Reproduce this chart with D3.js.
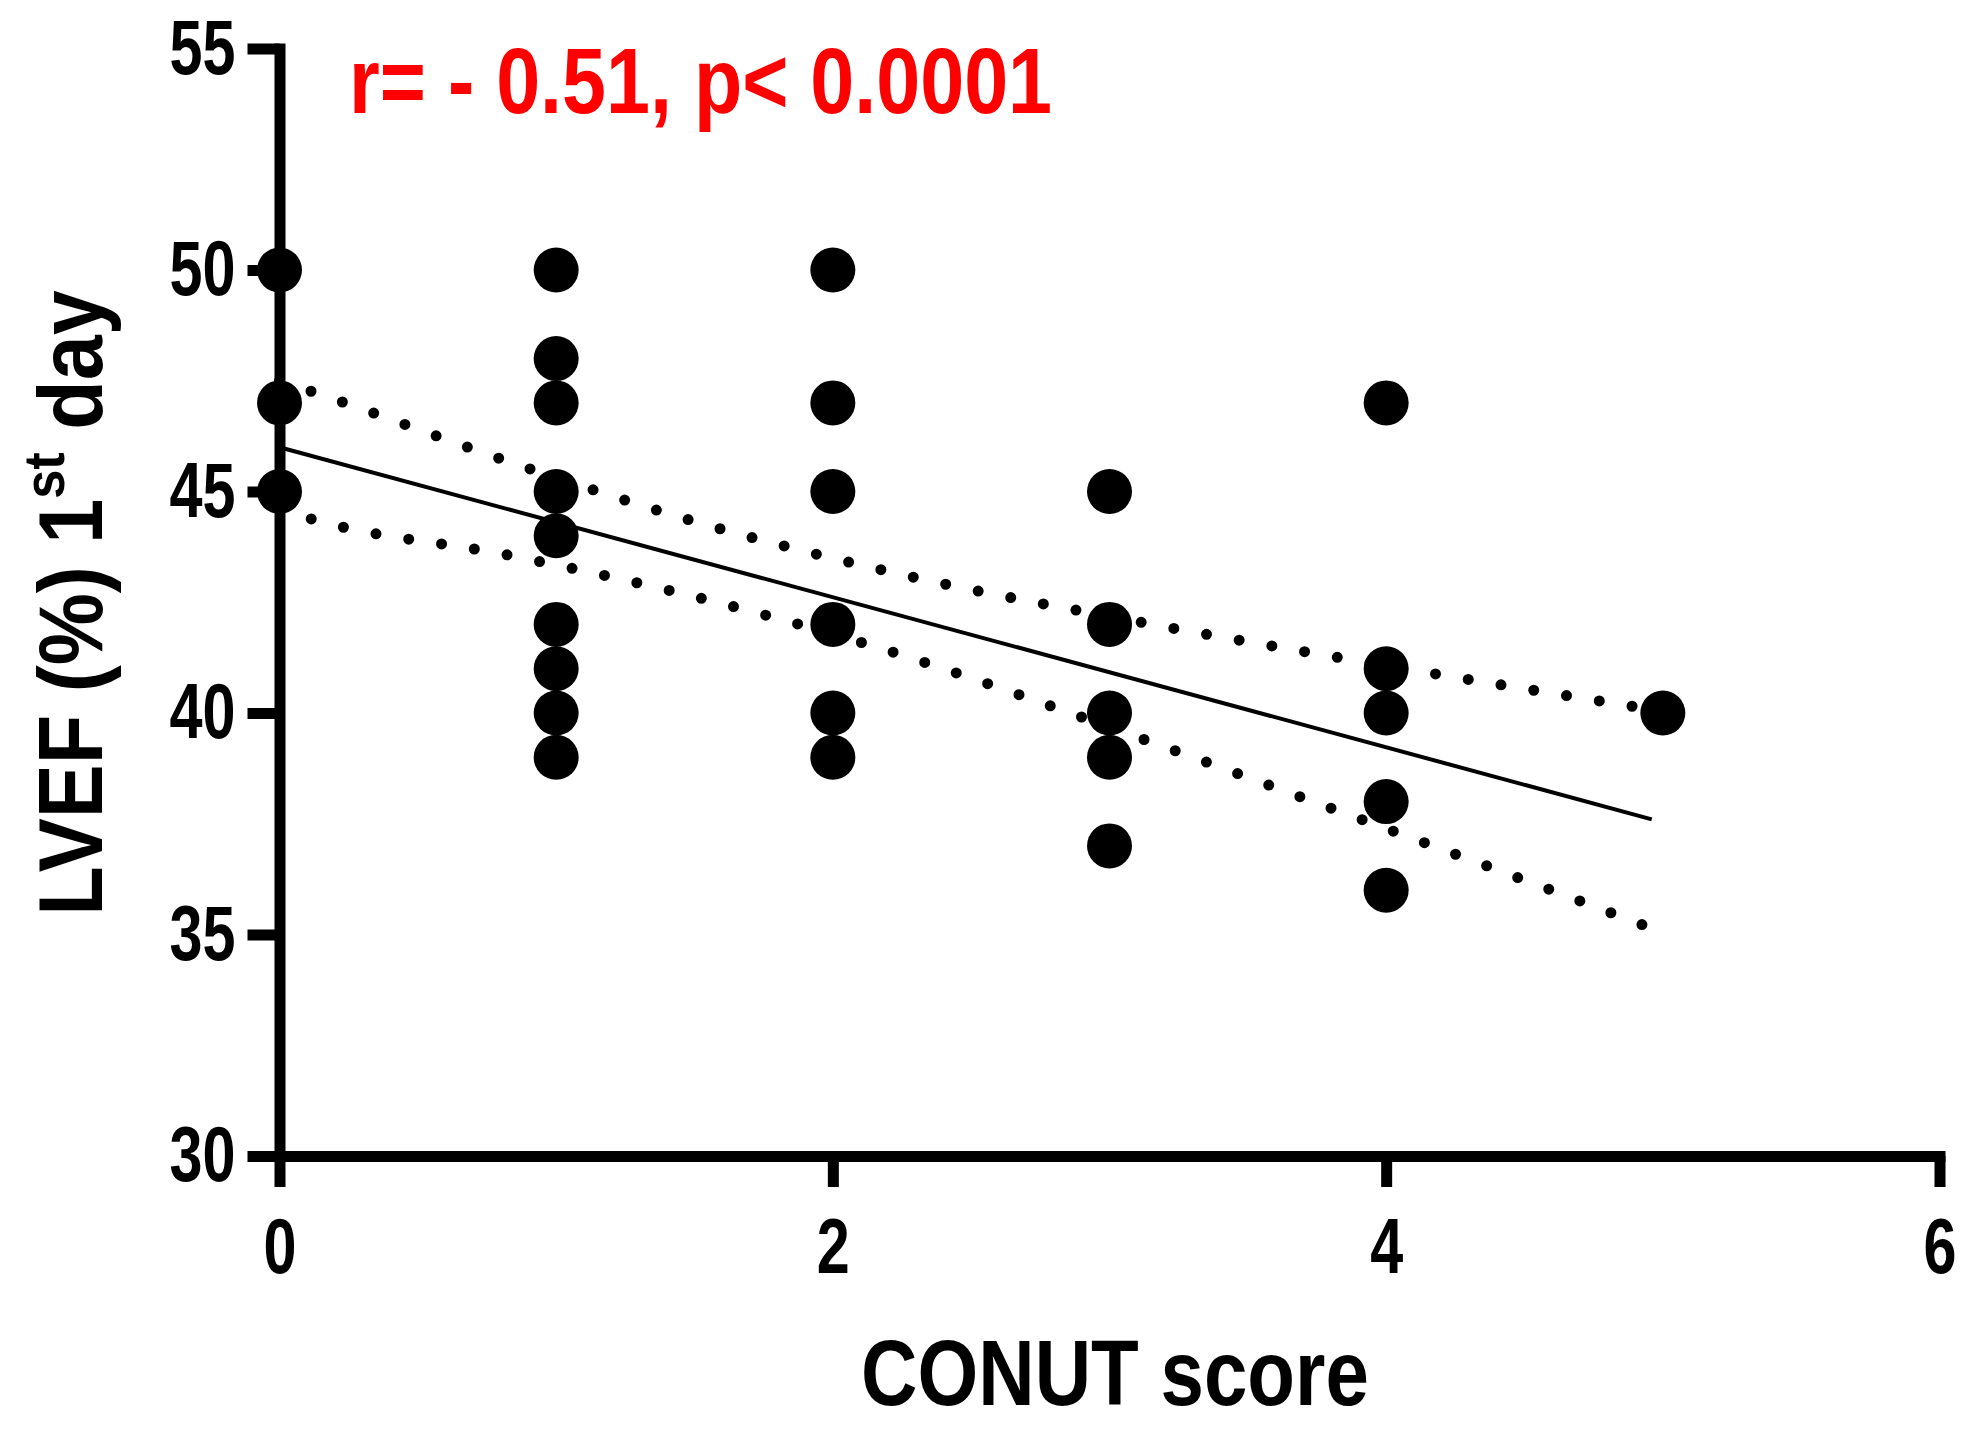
<!DOCTYPE html>
<html>
<head>
<meta charset="utf-8">
<script src="https://cdn.jsdelivr.net/npm/d3@7"></script>
<style>
  html, body { margin: 0; padding: 0; background: #fff; }
  svg { display: block; }
</style>
</head>
<body>
<svg id="chart" width="1973" height="1430"></svg>
<script>
// ---- data ----
const conutScores = [0,0,0, 1,1,1,1,1,1,1,1,1, 2,2,2,2,2,2, 3,3,3,3,3, 4,4,4,4,4, 5];
const lvefValues  = [50,47,45, 50,48,47,45,44,42,41,40,39, 50,47,45,42,40,39, 45,42,40,39,37, 47,41,40,38,36, 40];

const fitX = [0, 4.96];
const fitY = [46.0, 37.6];

const upperX = [0, 0.12, 0.91, 1.48, 2.19, 3.12, 3.83, 4.42, 4.96];
const upperY = [47.5, 47.25, 45.5, 44.36, 43.21, 42.04, 41.25, 40.63, 40.08];
const lowerX = [0, 0.12, 0.83, 1.42, 2.12, 3.13, 3.81, 4.38, 4.96];
const lowerY = [44.6, 44.37, 43.56, 42.75, 41.56, 39.39, 37.83, 36.51, 35.14];

const xTicks = [0, 2, 4, 6];
const yTicks = [30, 35, 40, 45, 50, 55];

const xTitle = "CONUT score";
const yTitleMain = "LVEF (%) 1";
const yTitleSup = "st";
const yTitleEnd = " day";
const statText = "r= - 0.51, p< 0.0001";

// ---- layout ----
const FONT = "'Liberation Sans', Arial, Helvetica, sans-serif";
const SX = 0.84;      // condensed look for titles
const SX_TICK = 0.77; // tick labels are a little narrower
const SX_Y = 0.9;     // y title
const svg = d3.select("#chart");
svg.append("rect").attr("width", 1973).attr("height", 1430).attr("fill", "#fff");

const x = d3.scaleLinear().domain([0, 6]).range([279.5, 1939.5]);
const y = d3.scaleLinear().domain([30, 55]).range([1156, 48.5]);

// ---- regression + CI bands ----
const lineGen = d3.line().x(d => x(d[0])).y(d => y(d[1]));
const curveGen = d3.line().x(d => x(d[0])).y(d => y(d[1])).curve(d3.curveMonotoneX);

svg.append("path")
  .attr("d", lineGen(fitX.map((v, i) => [v, fitY[i]])))
  .attr("fill", "none").attr("stroke", "#000").attr("stroke-width", 4);

[[upperX, upperY], [lowerX, lowerY]].forEach(([xs, ys]) => {
  svg.append("path")
    .attr("d", curveGen(xs.map((v, i) => [v, ys[i]])))
    .attr("fill", "none").attr("stroke", "#000")
    .attr("stroke-width", 11)
    .attr("stroke-linecap", "round")
    .attr("stroke-dasharray", "0 33.2");
});

// ---- axes ----
const yAxis = svg.append("g")
  .attr("transform", `translate(${x(0)},0)`)
  .call(d3.axisLeft(y).tickValues(yTicks).tickSize(32).tickSizeOuter(0).tickPadding(12).tickFormat(d3.format("d")));
const xAxis = svg.append("g")
  .attr("transform", `translate(0,${y(30)})`)
  .call(d3.axisBottom(x).tickValues(xTicks).tickSize(31).tickSizeOuter(0).tickPadding(31).tickFormat(d3.format("d")));

[yAxis, xAxis].forEach(g => {
  g.select(".domain").attr("stroke", "#000").attr("stroke-width", 11).attr("stroke-linecap", "square");
  g.selectAll(".tick line").attr("stroke", "#000").attr("stroke-width", 11);
  g.selectAll(".tick text")
    .attr("fill", "#000")
    .style("font-family", FONT).style("font-weight", "bold").style("font-size", "77px");
});
yAxis.selectAll(".tick text").attr("x", -44 / SX_TICK).attr("transform", `scale(${SX_TICK},1)`);
xAxis.selectAll(".tick text").attr("transform", `scale(${SX_TICK},1)`);

// ---- points ----
svg.append("g").selectAll("circle")
  .data(conutScores.map((c, i) => [c, lvefValues[i]]))
  .join("circle")
  .attr("cx", d => x(d[0])).attr("cy", d => y(d[1]))
  .attr("r", 22.5).attr("fill", "#000");

// ---- titles ----
svg.append("text")
  .attr("transform", `translate(1115,1405) scale(${SX},1)`)
  .attr("text-anchor", "middle")
  .style("font-family", FONT).style("font-weight", "bold").style("font-size", "93px")
  .attr("fill", "#000")
  .text(xTitle);

const yt = svg.append("text")
  .attr("transform", `translate(101.7,603) rotate(-90) scale(${SX_Y},1)`)
  .attr("text-anchor", "middle")
  .style("font-family", FONT).style("font-weight", "bold").style("font-size", "90px")
  .attr("fill", "#000");
yt.append("tspan").text(yTitleMain);
yt.append("tspan").attr("dy", -38).style("font-size", "58px").text(yTitleSup);
yt.append("tspan").attr("dy", 38).text(yTitleEnd);

svg.append("text")
  .attr("transform", `translate(349,113.3) scale(0.85,1)`)
  .attr("text-anchor", "start")
  .style("font-family", FONT).style("font-weight", "bold").style("font-size", "93px")
  .attr("fill", "#ff0000")
  .text(statText);
</script>
</body>
</html>
